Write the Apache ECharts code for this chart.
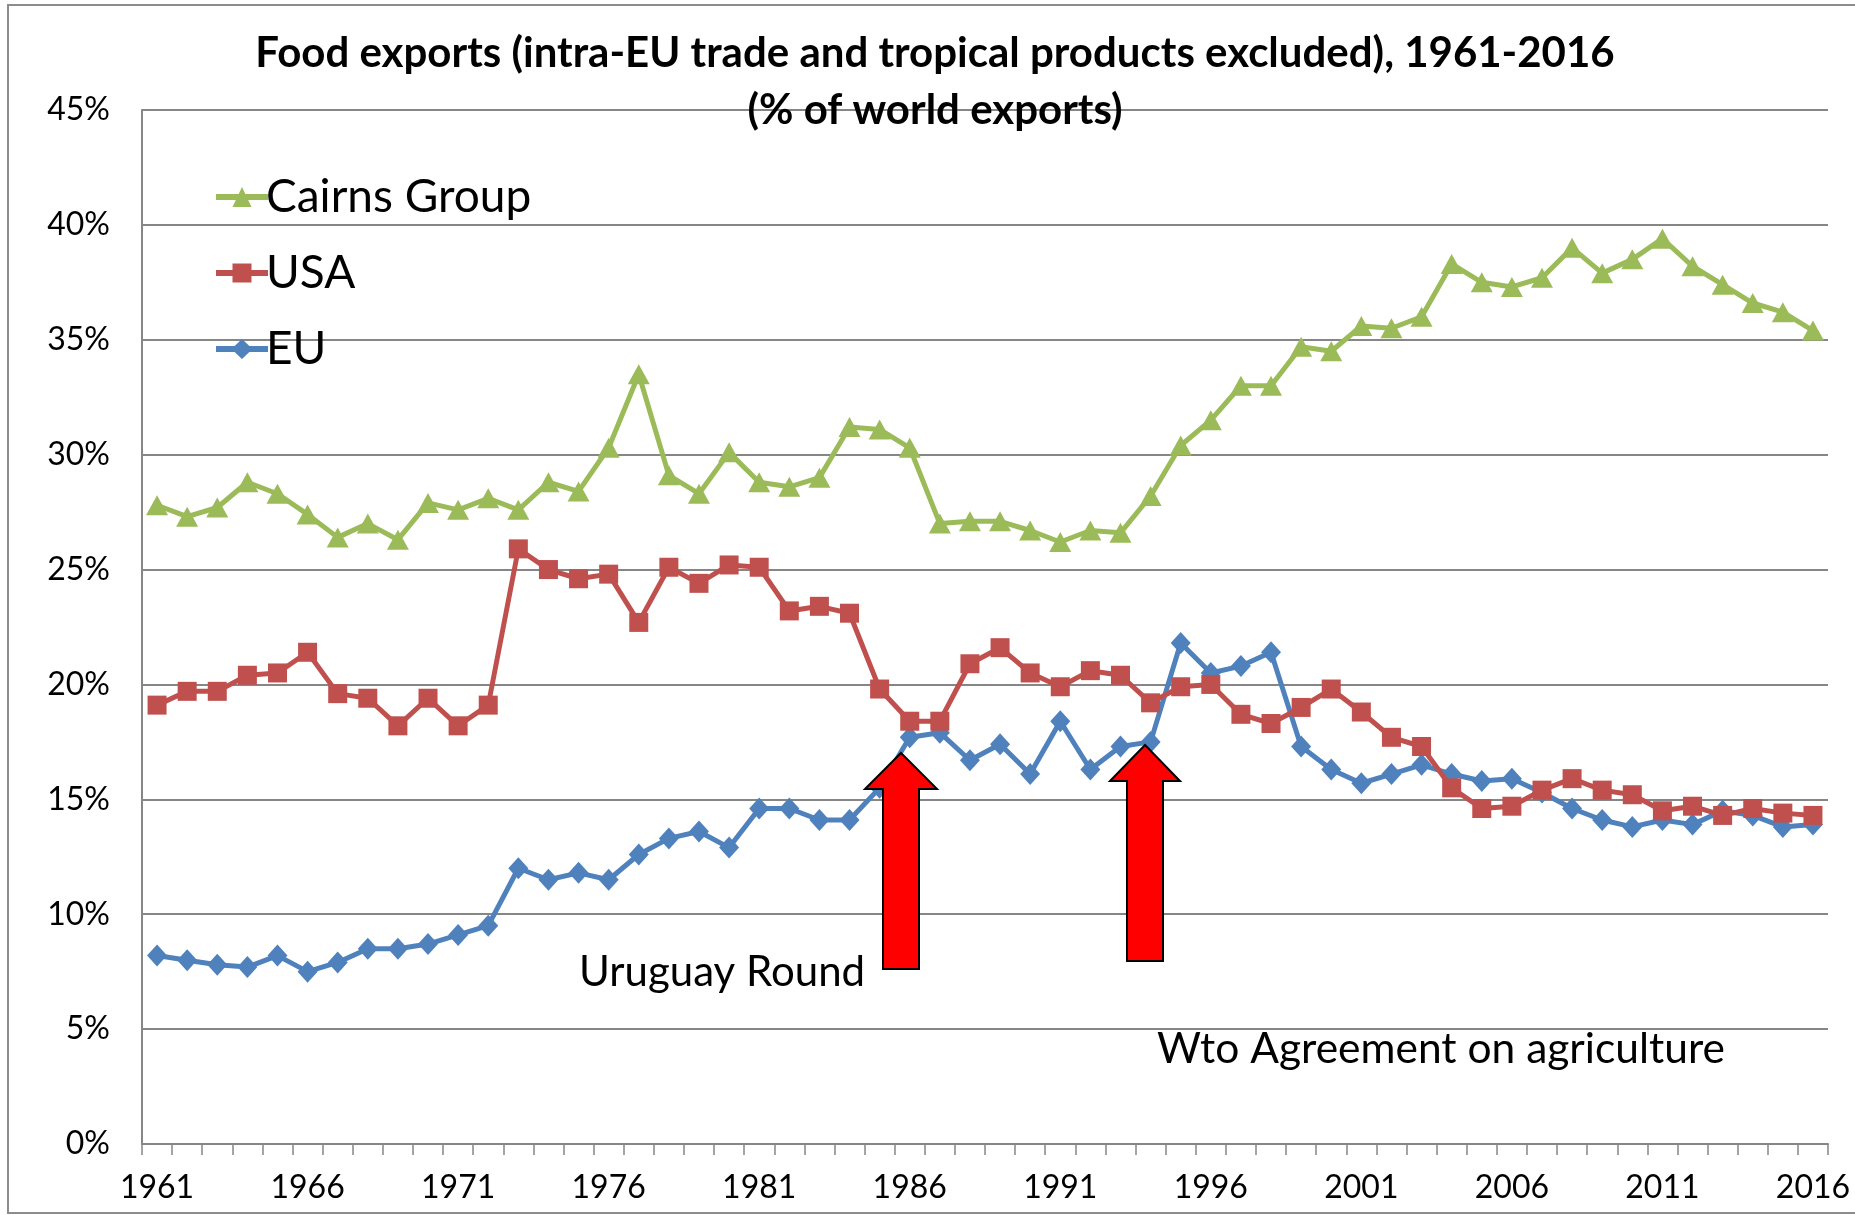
<!DOCTYPE html>
<html>
<head>
<meta charset="utf-8">
<title>Food exports</title>
<script src="https://cdn.jsdelivr.net/npm/echarts@6/dist/echarts.min.js"></script>
<style>
  html, body { margin: 0; padding: 0; background: #fff; }
  #chart { width: 1855px; height: 1215px; }
</style>
</head>
<body>
<div id="chart"></div>
<script>
// years 1961-2016
const years = [];
for (let y = 1961; y <= 2016; y++) years.push(String(y));

// % of world exports
const cairns = [
  27.8, 27.3, 27.7, 28.8, 28.3, 27.4, 26.4, 27.0, 26.3, 27.9,
  27.6, 28.1, 27.6, 28.8, 28.4, 30.3, 33.5, 29.1, 28.3, 30.1,
  28.8, 28.6, 29.0, 31.2, 31.1, 30.3, 27.0, 27.1, 27.1, 26.7,
  26.2, 26.7, 26.6, 28.2, 30.4, 31.5, 33.0, 33.0, 34.7, 34.5,
  35.6, 35.5, 36.0, 38.3, 37.5, 37.3, 37.7, 39.0, 37.9, 38.5,
  39.4, 38.2, 37.4, 36.6, 36.2, 35.4
];
const usa = [
  19.1, 19.7, 19.7, 20.4, 20.5, 21.4, 19.6, 19.4, 18.2, 19.4,
  18.2, 19.1, 25.9, 25.0, 24.6, 24.8, 22.7, 25.1, 24.4, 25.2,
  25.1, 23.2, 23.4, 23.1, 19.8, 18.4, 18.4, 20.9, 21.6, 20.5,
  19.9, 20.6, 20.4, 19.2, 19.9, 20.0, 18.7, 18.3, 19.0, 19.8,
  18.8, 17.7, 17.3, 15.5, 14.6, 14.7, 15.4, 15.9, 15.4, 15.2,
  14.5, 14.7, 14.3, 14.6, 14.4, 14.3
];
const eu = [
  8.2, 8.0, 7.8, 7.7, 8.2, 7.5, 7.9, 8.5, 8.5, 8.7,
  9.1, 9.5, 12.0, 11.5, 11.8, 11.5, 12.6, 13.3, 13.6, 12.9,
  14.6, 14.6, 14.1, 14.1, 15.5, 17.7, 17.9, 16.7, 17.4, 16.1,
  18.4, 16.3, 17.3, 17.5, 21.8, 20.5, 20.8, 21.4, 17.3, 16.3,
  15.7, 16.1, 16.5, 16.1, 15.8, 15.9, 15.3, 14.6, 14.1, 13.8,
  14.1, 13.9, 14.5, 14.3, 13.8, 13.9
];

const seriesNames = ['Cairns Group', 'USA', 'EU'];
const seriesColors = ['#9BBB59', '#C0504D', '#4F81BD'];
const FONT = 'Lato, "Open Sans", sans-serif';

// legend icons: thick line + marker, drawn in a 52x20 box
const LEG_LINE = 'M0,7 L52,7 L52,13 L0,13 Z ';
const legendIcons = [
  'path://' + LEG_LINE + 'M26,0 L35.5,20 L16.5,20 Z',
  'path://' + LEG_LINE + 'M16.5,0.5 L35.5,0.5 L35.5,19.5 L16.5,19.5 Z M0,0.5 L0.01,0.5 Z M52,19.5 L52.01,19.5 Z',
  'path://' + LEG_LINE + 'M26,0 L36.5,10 L26,20 L15.5,10 Z'
];

const chart = echarts.init(document.getElementById('chart'));

function arrow(tipX, tipY, headL, headR, baseY, shaftL, shaftR, bottom) {
  return {
    type: 'polygon',
    z: 100,
    shape: {
      points: [
        [tipX, tipY], [headR, baseY], [shaftR, baseY], [shaftR, bottom],
        [shaftL, bottom], [shaftL, baseY], [headL, baseY]
      ]
    },
    style: { fill: '#FF0000', stroke: '#000', lineWidth: 2 }
  };
}

function lineSeries(i, data, symbol, size) {
  return {
    name: seriesNames[i],
    type: 'line',
    data: data,
    symbol: symbol,
    symbolSize: size,
    showAllSymbol: true,
    color: seriesColors[i],
    lineStyle: { width: 5, color: seriesColors[i] },
    itemStyle: { color: seriesColors[i] },
    z: 10 - i,
    animation: false
  };
}

const option = {
  animation: false,
  backgroundColor: '#fff',
  grid: { left: 142, right: 27, top: 110, bottom: 71 },
  legend: {
    orient: 'vertical',
    left: 211,
    top: 168,
    itemWidth: 52,
    itemHeight: 20,
    itemGap: 28,
    data: seriesNames.map((n, i) => ({ name: n, icon: legendIcons[i] })),
    textStyle: { fontFamily: FONT, fontSize: 46, color: '#000', lineHeight: 48, padding: [0, 0, 0, -7] }
  },
  xAxis: {
    type: 'category',
    data: years,
    boundaryGap: true,
    axisLine: { lineStyle: { color: '#868686', width: 2 } },
    axisTick: { show: true, interval: 0, length: 11, lineStyle: { color: '#868686', width: 1.5 } },
    axisLabel: { interval: 4, margin: 28, fontFamily: FONT, fontSize: 32, color: '#000' },
    splitLine: { show: false }
  },
  yAxis: {
    type: 'value',
    min: 0,
    max: 45,
    interval: 5,
    axisLine: { show: true, lineStyle: { color: '#868686', width: 2 } },
    axisTick: { show: false },
    axisLabel: { formatter: '{value}%', margin: 32, fontFamily: FONT, fontSize: 32, color: '#000' },
    splitLine: { lineStyle: { color: '#868686', width: 2 } }
  },
  graphic: [
    {
      type: 'rect',
      z: -1,
      shape: { x: 8, y: 5, width: 1870, height: 1208 },
      style: { fill: null, stroke: '#8C8C8C', lineWidth: 2 }
    },
    {
      type: 'text', x: 935, y: 53, z: 100,
      style: {
        text: 'Food exports (intra-EU trade and tropical products excluded), 1961-2016',
        fontFamily: FONT, fontWeight: 'bold', fontSize: 42, fill: '#000',
        align: 'center', verticalAlign: 'middle'
      }
    },
    {
      type: 'text', x: 935, y: 110, z: 100,
      style: {
        text: '(% of world exports)',
        fontFamily: FONT, fontWeight: 'bold', fontSize: 42, fill: '#000',
        align: 'center', verticalAlign: 'middle'
      }
    },
    {
      type: 'text', x: 579, y: 972, z: 100,
      style: {
        text: 'Uruguay Round', fontFamily: FONT, fontSize: 42, fill: '#000',
        align: 'left', verticalAlign: 'middle'
      }
    },
    {
      type: 'text', x: 1157, y: 1049, z: 100,
      style: {
        text: 'Wto Agreement on agriculture', fontFamily: FONT, fontSize: 42.5, fill: '#000',
        align: 'left', verticalAlign: 'middle'
      }
    },
    arrow(901, 753, 865, 937, 789, 883, 919, 969),
    arrow(1145, 745, 1110, 1180, 781, 1127, 1163, 961)
  ],
  series: [
    lineSeries(0, cairns, 'triangle', [22, 20]),
    lineSeries(1, usa, 'rect', 19),
    lineSeries(2, eu, 'diamond', [20, 22])
  ]
};

chart.setOption(option);
</script>
</body>
</html>
